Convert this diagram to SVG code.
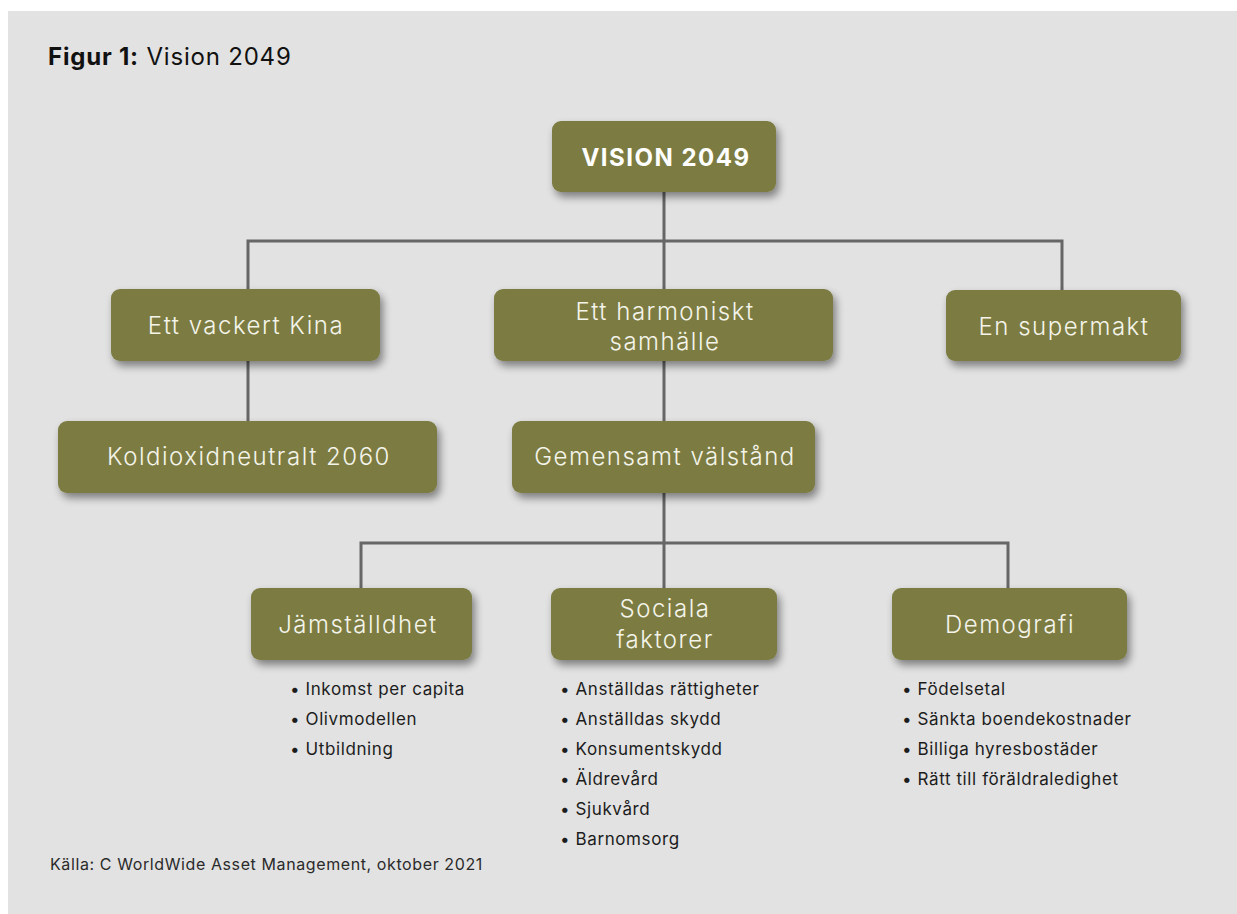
<svg xmlns="http://www.w3.org/2000/svg" width="1237" height="914" viewBox="0 0 1237 914">
  <defs>
    <filter id="shadow" x="-20%" y="-30%" width="140%" height="170%">
      <feGaussianBlur in="SourceAlpha" stdDeviation="4"/>
      <feOffset dx="3" dy="5" result="b"/>
      <feComponentTransfer><feFuncA type="linear" slope="0.45"/></feComponentTransfer>
      <feMerge><feMergeNode/><feMergeNode in="SourceGraphic"/></feMerge>
    </filter>
  </defs>
  <style>
    .box { fill: #7b7c42; filter: url(#shadow); }
    .lbl { font-family: Inter, "Open Sans", "Liberation Sans", sans-serif; font-weight: 300; font-size: 24px; letter-spacing: 1.5px; fill: #f4f4ea; text-anchor: middle; }
    .head { font-family: Inter, "Liberation Sans", sans-serif; font-weight: 700; font-size: 24px; letter-spacing: 1.5px; fill: #ffffff; text-anchor: middle; }
    .item { font-family: Inter, "Open Sans", "Liberation Sans", sans-serif; font-size: 17px; letter-spacing: 0.6px; fill: #1c1c1c; }
    .link { fill: none; stroke: #666666; stroke-width: 3; }
  </style>

  <!-- page background -->
  <rect x="0" y="0" width="1237" height="914" fill="#ffffff"/>
  <rect x="8" y="11" width="1229" height="903" fill="#e2e2e2"/>

  <!-- caption -->
  <text x="48" y="65" font-family="Inter, 'Liberation Sans', sans-serif" font-size="24" letter-spacing="0.8" fill="#111111"><tspan font-weight="700">Figur 1:</tspan><tspan font-weight="400"> Vision 2049</tspan></text>

  <!-- connectors -->
  <g id="connectors">
    <path class="link" d="M664 191 V241 M248 290 V241 H1062 V290 M664 241 V290"/>
    <path class="link" d="M248 361 V421"/>
    <path class="link" d="M664 361 V421"/>
    <path class="link" d="M664 493 V543 M361 588 V543 H1008 V588 M664 543 V588"/>
  </g>

  <g id="vision">
    <rect class="box" x="552" y="121" width="224" height="71" rx="9"/>
    <text class="head" x="666" y="166">VISION 2049</text>
  </g>

  <g id="vackert-kina">
    <rect class="box" x="111" y="289" width="269" height="72" rx="9"/>
    <text class="lbl" x="246" y="334">Ett vackert Kina</text>
  </g>

  <g id="harmoniskt">
    <rect class="box" x="494" y="289" width="339" height="72" rx="9"/>
    <text class="lbl" x="665" y="320">Ett harmoniskt</text>
    <text class="lbl" x="665" y="350">samhälle</text>
  </g>

  <g id="supermakt">
    <rect class="box" x="946" y="290" width="235" height="71" rx="9"/>
    <text class="lbl" x="1064" y="335">En supermakt</text>
  </g>

  <g id="koldioxid">
    <rect class="box" x="58" y="421" width="379" height="72" rx="9"/>
    <text class="lbl" x="249" y="465">Koldioxidneutralt 2060</text>
  </g>

  <g id="valstand">
    <rect class="box" x="512" y="421" width="303" height="72" rx="9"/>
    <text class="lbl" x="665" y="465">Gemensamt välstånd</text>
  </g>

  <g id="jamstalldhet">
    <rect class="box" x="251" y="588" width="221" height="72" rx="9"/>
    <text class="lbl" x="358" y="633">Jämställdhet</text>
    <text class="item" x="290" y="695">• Inkomst per capita</text>
    <text class="item" x="290" y="725">• Olivmodellen</text>
    <text class="item" x="290" y="755">• Utbildning</text>
  </g>

  <g id="sociala">
    <rect class="box" x="551" y="588" width="226" height="72" rx="9"/>
    <text class="lbl" x="665" y="617">Sociala</text>
    <text class="lbl" x="665" y="648">faktorer</text>
    <text class="item" x="560" y="695">• Anställdas rättigheter</text>
    <text class="item" x="560" y="725">• Anställdas skydd</text>
    <text class="item" x="560" y="755">• Konsumentskydd</text>
    <text class="item" x="560" y="785">• Äldrevård</text>
    <text class="item" x="560" y="815">• Sjukvård</text>
    <text class="item" x="560" y="845">• Barnomsorg</text>
  </g>

  <g id="demografi">
    <rect class="box" x="892" y="588" width="235" height="72" rx="9"/>
    <text class="lbl" x="1010" y="633">Demografi</text>
    <text class="item" x="902" y="695">• Födelsetal</text>
    <text class="item" x="902" y="725">• Sänkta boendekostnader</text>
    <text class="item" x="902" y="755">• Billiga hyresbostäder</text>
    <text class="item" x="902" y="785">• Rätt till föräldraledighet</text>
  </g>

  <!-- source line -->
  <text x="50" y="870" font-family="Inter, 'Liberation Sans', sans-serif" font-size="16" letter-spacing="0.6" fill="#2a2a2a">Källa: C WorldWide Asset Management, oktober 2021</text>
</svg>
